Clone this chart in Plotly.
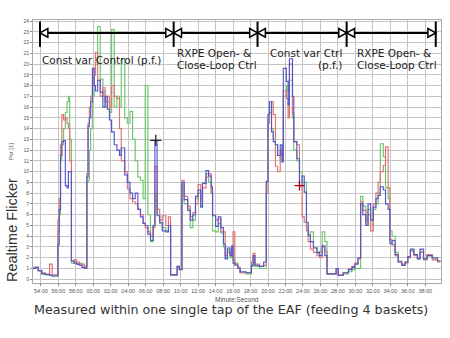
import plotly.graph_objects as go

# time in minutes relative to 54:00 (step start times), Pst values per series
t = [-1.0, -0.6, -0.3, 0.1, 0.5, 1.0, 1.3, 1.95, 2.1, 2.25, 2.4, 2.6, 2.8, 3.0, 3.15, 3.3,
     3.5, 3.8, 4.1, 4.4, 4.7, 5.0, 5.27, 5.4, 5.55, 5.7, 5.9, 6.1, 6.25, 6.5, 6.8, 7.1,
     7.35, 7.6, 7.85, 8.1, 8.4, 8.7, 9.0, 9.2, 9.6, 9.9, 10.2, 10.5, 10.8, 11.1, 11.4, 11.7,
     11.95, 12.25, 12.55, 12.85, 13.05, 13.3, 13.6, 13.9, 14.3, 14.6, 14.85, 15.6, 15.85,
     16.15, 16.4, 16.8, 17.1, 17.4, 17.7, 18.0, 18.3, 18.5, 18.9, 19.2, 19.5, 19.65, 20.0,
     20.3, 20.6, 20.9, 21.1, 21.35, 21.65, 21.85, 22.0, 22.2, 22.55, 22.8, 23.5, 24.1, 24.3,
     24.5, 25.0, 25.5, 25.8, 26.0, 26.15, 26.4, 26.6, 26.85, 27.1, 27.4, 27.6, 27.75, 28.1,
     28.3, 28.45, 28.8, 28.95, 29.3, 29.6, 29.9, 30.15, 30.4, 30.6, 30.85, 31.2, 31.6, 31.9,
     32.2, 32.5, 32.75, 33.8, 34.05, 34.6, 35.2, 35.6, 35.95, 36.3, 36.6, 36.85, 37.2, 37.45,
     37.75, 38.05, 38.35, 38.6, 38.85, 39.2, 39.45, 39.75, 39.95, 40.2, 40.55, 40.9, 41.3,
     41.7, 42.0, 42.3, 42.7, 43.1, 43.4, 43.8, 44.2, 44.8, 45.4, 45.75]

blue = [1.0, 1.1, 0.8, 0.5, 0.45, 0.35, 0.3, 3.2, 6.5, 11.5, 12.8, 12.9, 8.7, 8.5, 10.0, 10.0,
        1.7, 1.5, 1.4, 1.3, 1.1, 1.0, 9.5, 14.2, 15.0, 16.5, 19.6, 18.0, 17.5, 18.5, 17.4, 16.0,
        17.0, 15.8, 14.8, 13.7, 12.5, 12.0, 11.5, 12.2, 9.7, 9.0, 8.0, 7.5, 8.0, 6.5, 5.8, 5.2,
        5.0, 4.2, 3.6, 5.0, 12.9, 5.9, 5.3, 4.5, 4.4, 5.0, 0.4, 1.2, 0.9,
        9.0, 7.4, 6.4, 5.5, 6.0, 7.7, 8.3, 6.7, 8.9, 10.1, 9.6, 8.6, 5.9, 4.9,
        5.8, 4.8, 3.3, 1.9, 2.9, 2.2, 3.1, 1.5, 1.3, 1.0, 0.7, 0.6, 1.3, 2.2,
        1.3, 1.2, 1.6, 9.1, 15.3, 16.5, 13.7, 12.8, 12.5, 11.5, 12.5, 10.9, 19.6, 18.4,
        16.2, 20.5, 17.0, 12.8, 11.2, 8.7, 9.6, 8.1, 5.3, 4.1, 3.5, 2.9, 2.5, 2.2,
        3.1, 2.2, 0.5, 1.0, 0.35, 0.6, 0.9, 1.1, 1.4, 2.0, 7.0, 6.0, 5.0, 7.0,
        5.5, 6.7, 7.5, 7.8, 8.6, 8.3, 7.0, 6.5, 3.3, 3.6, 2.3, 1.6, 1.3,
        1.6, 2.1, 2.8, 2.3, 1.9, 2.8, 1.9, 2.2, 2.0, 1.7, 1.7]

red = [1.1, 1.1, 0.8, 0.6, 0.45, 1.4, 0.4, 5.5, 7.5, 12.5, 15.3, 14.8, 15.0, 14.5, 14.0, 11.0,
       1.7, 1.8, 1.6, 1.4, 1.3, 1.1, 9.8, 14.5, 16.0, 17.0, 18.0, 19.0, 21.1, 18.5, 17.0, 17.8,
       16.5, 17.0, 16.0, 18.0, 17.0, 16.8, 14.0, 11.0, 10.0, 8.4, 7.5, 7.2, 7.0, 6.5, 6.0, 5.2,
       4.8, 4.4, 4.0, 4.8, 10.5, 6.5, 5.5, 5.9, 5.0, 5.8, 0.4, 1.1, 1.0,
       9.2, 7.7, 6.8, 5.8, 6.2, 7.0, 8.8, 7.5, 8.5, 9.5, 9.8, 8.0, 6.0, 5.5,
       5.6, 4.4, 4.4, 2.2, 2.5, 2.3, 2.9, 4.4, 1.4, 1.1, 0.6, 0.6, 1.6, 2.4,
       1.4, 1.2, 1.3, 8.0, 14.5, 15.5, 16.5, 15.3, 10.5, 10.0, 12.0, 11.5, 17.5, 16.8,
       15.0, 20.0, 15.5, 12.8, 12.5, 8.7, 5.8, 5.3, 4.5, 3.5, 2.8, 2.5, 2.2, 2.0,
       3.0, 2.6, 0.5, 1.0, 0.4, 0.6, 1.0, 1.2, 1.5, 1.9, 7.2, 6.4, 5.0, 6.0,
       4.5, 7.0, 8.0, 9.0, 10.0, 10.6, 12.3, 8.5, 3.7, 3.2, 2.2, 1.6, 1.4,
       1.5, 2.0, 2.6, 2.2, 2.0, 2.5, 1.8, 2.3, 1.8, 1.6, 1.6]

green = [1.0, 1.1, 0.8, 0.5, 0.4, 0.4, 0.3, 4.5, 6.0, 11.0, 12.5, 14.0, 15.5, 16.5, 17.0, 13.0,
         1.5, 1.6, 1.4, 1.5, 1.4, 1.2, 9.0, 9.2, 12.0, 14.0, 17.0, 19.0, 20.0, 23.5, 18.6, 17.5,
         16.0, 16.5, 15.5, 23.2, 16.0, 17.0, 16.0, 20.5, 15.0, 14.5, 15.6, 13.0, 11.0, 9.5, 9.2, 7.5,
         18.0, 6.0, 3.5, 5.0, 8.0, 6.0, 5.2, 4.8, 4.5, 5.0, 0.4, 1.2, 0.9,
         8.8, 7.0, 6.6, 4.8, 5.5, 7.5, 8.0, 6.8, 9.0, 9.8, 9.0, 8.0, 4.5, 4.4,
         5.2, 4.3, 3.0, 2.0, 2.7, 2.0, 2.8, 1.8, 1.5, 1.1, 0.6, 0.5, 1.2, 1.9,
         1.2, 1.0, 1.0, 9.0, 15.0, 16.0, 14.0, 13.0, 12.5, 11.5, 11.0, 12.0, 17.0, 18.0,
         17.5, 18.5, 15.0, 12.0, 11.0, 10.0, 9.0, 9.0, 5.0, 4.0, 4.4, 3.0, 2.4, 2.6,
         4.4, 3.5, 0.5, 1.0, 0.35, 0.5, 0.7, 0.9, 1.0, 1.0, 7.7, 6.8, 5.5, 6.5,
         5.0, 6.5, 7.0, 8.0, 12.6, 11.4, 8.5, 7.5, 4.5, 4.0, 2.5, 1.7, 1.3,
         1.6, 2.0, 2.7, 2.3, 1.9, 2.6, 1.9, 2.2, 1.9, 1.7, 1.7]

xtick_vals = list(range(0, 45, 2))
xtick_text = ["54:00", "56:00", "58:00", "00:00", "02:00", "04:00", "06:00", "08:00",
              "10:00", "12:00", "14:00", "16:00", "18:00", "20:00", "22:00", "24:00",
              "26:00", "28:00", "30:00", "32:00", "34:00", "36:00", "38:00"]
ytick_vals = list(range(0, 25))

phase_bounds = [-0.1, 15.2, 24.8, 35.0, 45.2]
marker_black = ([13.15], [12.9])
marker_red = ([29.6], [8.7])

W, H = 450, 338
ML, MR, MT, MB = 33, 9, 20, 55
X_RANGE = [-0.9, 45.8]
Y_RANGE = [-0.35, 24.1]

def px(xp):
    return (xp - ML) / (W - ML - MR)

def py(yp):
    return (H - MB - yp) / (H - MT - MB)

fig = go.Figure()
for vals, col in [(green, "#6cc76c"), (red, "#e27272"), (blue, "#5555cc")]:
    fig.add_trace(go.Scatter(x=t, y=vals, mode="lines", line=dict(color=col, width=1.15, shape="hv"),
                             hoverinfo="skip"))
fig.add_trace(go.Scatter(x=marker_black[0], y=marker_black[1], mode="markers",
                         marker=dict(symbol="cross-thin", size=8, line=dict(color="#222", width=1.3))))
fig.add_trace(go.Scatter(x=marker_red[0], y=marker_red[1], mode="markers",
                         marker=dict(symbol="cross-thin", size=7, line=dict(color="#b00000", width=1.3))))

shapes = []
y_line = 22.9
shapes.append(dict(type="line", xref="x", yref="y", x0=phase_bounds[0], x1=phase_bounds[-1],
                   y0=y_line, y1=y_line, line=dict(color="black", width=2), layer="above"))
dx, dy = 0.9, 0.4
for i, b in enumerate(phase_bounds):
    shapes.append(dict(type="line", xref="x", yref="y", x0=b, x1=b, y0=21.6, y1=23.95,
                       line=dict(color="black", width=2), layer="above"))
    if i > 0:
        shapes.append(dict(type="path", xref="x", yref="y",
                           path=f"M {b},{y_line} L {b-dx},{y_line+dy} L {b-dx},{y_line-dy} Z",
                           fillcolor="white", line=dict(color="black", width=1.5), layer="above"))
    if i < len(phase_bounds) - 1:
        shapes.append(dict(type="path", xref="x", yref="y",
                           path=f"M {b},{y_line} L {b+dx},{y_line+dy} L {b+dx},{y_line-dy} Z",
                           fillcolor="white", line=dict(color="black", width=1.5), layer="above"))

lab_font = dict(family="DejaVu Sans", size=10.5, color="#222")
annotations = [
    dict(x=phase_bounds[0], y=20.4, text="Const var Control (p.f.)", xanchor="left"),
    dict(x=15.3, y=21.05, text="RXPE Open- &", xanchor="left"),
    dict(x=15.3, y=19.9, text="Close-Loop Ctrl", xanchor="left"),
    dict(x=26.0, y=21.05, text="Const var Ctrl", xanchor="left"),
    dict(x=33.1, y=19.9, text="(p.f.)", xanchor="center"),
    dict(x=35.9, y=21.05, text="RXPE Open- &", xanchor="left"),
    dict(x=35.9, y=19.9, text="Close-Loop Ctrl", xanchor="left"),
]
for a in annotations:
    a.update(xref="x", yref="y", yanchor="middle", showarrow=False, font=lab_font)

annotations += [
    dict(xref="paper", yref="paper", x=px(11), y=py(152), text="Pst [1]", textangle=-90,
         showarrow=False, font=dict(family="Liberation Sans", size=6, color="#555"),
         xanchor="center", yanchor="middle"),
    dict(xref="paper", yref="paper", x=px(12), y=py(230), text="Realtime Flicker", textangle=-90,
         showarrow=False, font=dict(family="Liberation Sans", size=14.5, color="#333"),
         xanchor="center", yanchor="middle"),
    dict(xref="paper", yref="paper", x=px(237), y=py(299), text="Minute:Second",
         showarrow=False, font=dict(family="Liberation Sans", size=6.5, color="#555"),
         xanchor="center", yanchor="middle"),
    dict(xref="paper", yref="paper", x=px(231), y=py(309),
         text="Measured within one single tap of the EAF (feeding 4 baskets)",
         showarrow=False, font=dict(family="DejaVu Sans", size=12.7, color="#333"),
         xanchor="center", yanchor="middle"),
]

fig.update_layout(
    width=W, height=H, margin=dict(l=ML, r=MR, t=MT, b=MB),
    paper_bgcolor="white", plot_bgcolor="white", showlegend=False,
    shapes=shapes, annotations=annotations,
    xaxis=dict(range=X_RANGE, tickvals=xtick_vals, ticktext=xtick_text, showgrid=True,
               gridcolor="#c4c4c4", gridwidth=1, zeroline=False, showline=True, mirror=True,
               linecolor="#aaaaaa", ticks="outside", ticklen=2, tickcolor="#888",
               tickfont=dict(family="Liberation Sans", size=5.5, color="#555")),
    yaxis=dict(range=Y_RANGE, tickvals=ytick_vals, showgrid=True, gridcolor="#c4c4c4",
               gridwidth=1, zeroline=False, showline=True, mirror=True, linecolor="#aaaaaa",
               ticks="outside", ticklen=2, tickcolor="#888",
               tickfont=dict(family="Liberation Sans", size=5, color="#555")),
)

fig.write_html("out.html")
